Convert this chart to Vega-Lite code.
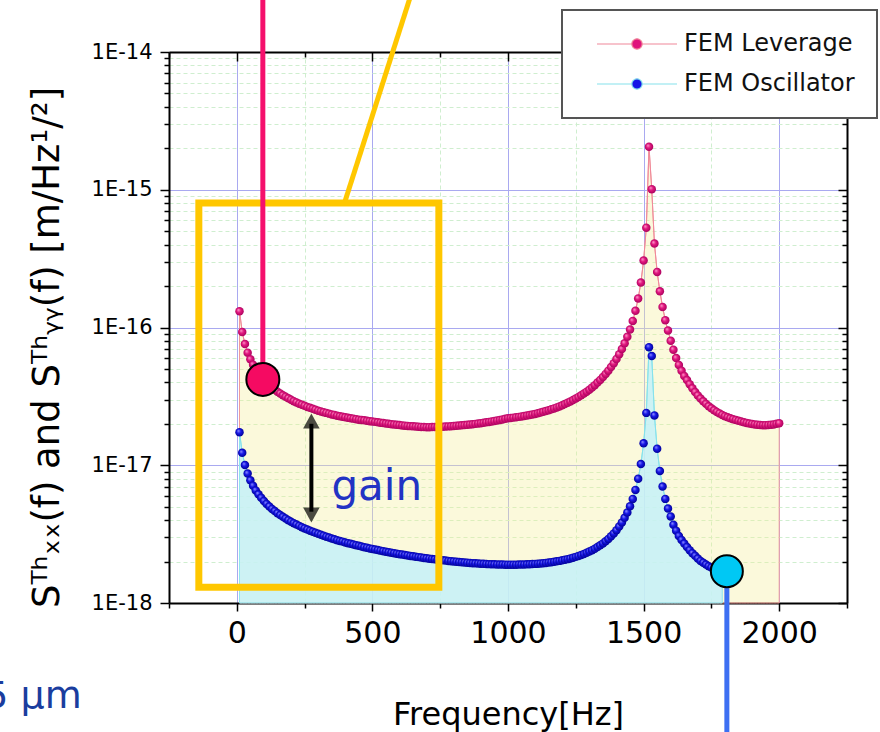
{
  "$schema": "https://vega.github.io/schema/vega-lite/v6.json",
  "width": 678,
  "height": 551,
  "autosize": {"type": "none"},
  "padding": {"left": 169, "top": 52, "right": 33, "bottom": 129},
  "background": "white",
  "config": {
    "view": {"stroke": null},
    "font": "DejaVu Sans",
    "axis": {"labelFont": "DejaVu Sans", "titleFont": "DejaVu Sans", "labelColor": "#000", "titleColor": "#000"}
  },
  "datasets": {
    "leverage": [
      {"f":10,"s":1.312e-16},{"f":20,"s":9.28e-17},{"f":30,"s":7.58e-17},{"f":40,"s":6.57e-17},{"f":50,"s":5.88e-17},
      {"f":60,"s":5.37e-17},{"f":70,"s":4.97e-17},{"f":80,"s":4.65e-17},{"f":90,"s":4.39e-17},{"f":100,"s":4.17e-17},
      {"f":110,"s":3.98e-17},{"f":120,"s":3.81e-17},{"f":130,"s":3.67e-17},{"f":140,"s":3.54e-17},{"f":150,"s":3.42e-17},
      {"f":160,"s":3.32e-17},{"f":170,"s":3.22e-17},{"f":180,"s":3.14e-17},{"f":190,"s":3.06e-17},{"f":200,"s":2.99e-17},
      {"f":210,"s":2.92e-17},{"f":220,"s":2.86e-17},{"f":230,"s":2.80e-17},{"f":240,"s":2.75e-17},{"f":250,"s":2.70e-17},
      {"f":260,"s":2.65e-17},{"f":270,"s":2.61e-17},{"f":280,"s":2.57e-17},{"f":290,"s":2.53e-17},{"f":300,"s":2.49e-17},
      {"f":310,"s":2.46e-17},{"f":320,"s":2.43e-17},{"f":330,"s":2.40e-17},{"f":340,"s":2.37e-17},{"f":350,"s":2.34e-17},
      {"f":360,"s":2.32e-17},{"f":370,"s":2.29e-17},{"f":380,"s":2.27e-17},{"f":390,"s":2.25e-17},{"f":400,"s":2.23e-17},
      {"f":410,"s":2.21e-17},{"f":420,"s":2.19e-17},{"f":430,"s":2.18e-17},{"f":440,"s":2.16e-17},{"f":450,"s":2.14e-17},
      {"f":460,"s":2.13e-17},{"f":470,"s":2.12e-17},{"f":480,"s":2.10e-17},{"f":490,"s":2.09e-17},{"f":500,"s":2.08e-17},
      {"f":510,"s":2.065e-17},{"f":520,"s":2.050e-17},{"f":530,"s":2.036e-17},{"f":540,"s":2.023e-17},{"f":550,"s":2.010e-17},
      {"f":560,"s":1.998e-17},{"f":570,"s":1.986e-17},{"f":580,"s":1.976e-17},{"f":590,"s":1.965e-17},{"f":600,"s":1.956e-17},
      {"f":610,"s":1.947e-17},{"f":620,"s":1.938e-17},{"f":630,"s":1.930e-17},{"f":640,"s":1.923e-17},{"f":650,"s":1.916e-17},
      {"f":660,"s":1.910e-17},{"f":670,"s":1.904e-17},{"f":680,"s":1.899e-17},{"f":690,"s":1.894e-17},{"f":700,"s":1.890e-17},
      {"f":710,"s":1.891e-17},{"f":720,"s":1.893e-17},{"f":730,"s":1.895e-17},{"f":740,"s":1.898e-17},{"f":750,"s":1.901e-17},
      {"f":760,"s":1.905e-17},{"f":770,"s":1.910e-17},{"f":780,"s":1.915e-17},{"f":790,"s":1.920e-17},{"f":800,"s":1.926e-17},
      {"f":810,"s":1.933e-17},{"f":820,"s":1.940e-17},{"f":830,"s":1.948e-17},{"f":840,"s":1.956e-17},{"f":850,"s":1.965e-17},
      {"f":860,"s":1.975e-17},{"f":870,"s":1.985e-17},{"f":880,"s":1.997e-17},{"f":890,"s":2.008e-17},{"f":900,"s":2.021e-17},
      {"f":910,"s":2.034e-17},{"f":920,"s":2.048e-17},{"f":930,"s":2.063e-17},{"f":940,"s":2.079e-17},{"f":950,"s":2.096e-17},
      {"f":960,"s":2.113e-17},{"f":970,"s":2.132e-17},{"f":980,"s":2.151e-17},{"f":990,"s":2.172e-17},{"f":1000,"s":2.194e-17},
      {"f":1010,"s":2.205e-17},{"f":1020,"s":2.217e-17},{"f":1030,"s":2.231e-17},{"f":1040,"s":2.245e-17},{"f":1050,"s":2.261e-17},
      {"f":1060,"s":2.277e-17},{"f":1070,"s":2.295e-17},{"f":1080,"s":2.315e-17},{"f":1090,"s":2.335e-17},{"f":1100,"s":2.358e-17},
      {"f":1110,"s":2.384e-17},{"f":1120,"s":2.413e-17},{"f":1130,"s":2.443e-17},{"f":1140,"s":2.475e-17},{"f":1150,"s":2.510e-17},
      {"f":1160,"s":2.547e-17},{"f":1170,"s":2.586e-17},{"f":1180,"s":2.629e-17},{"f":1190,"s":2.674e-17},{"f":1200,"s":2.723e-17},
      {"f":1210,"s":2.779e-17},{"f":1220,"s":2.839e-17},{"f":1230,"s":2.903e-17},{"f":1240,"s":2.972e-17},{"f":1250,"s":3.047e-17},
      {"f":1260,"s":3.129e-17},{"f":1270,"s":3.217e-17},{"f":1280,"s":3.313e-17},{"f":1290,"s":3.418e-17},{"f":1300,"s":3.532e-17},
      {"f":1310,"s":3.668e-17},{"f":1320,"s":3.816e-17},{"f":1330,"s":3.981e-17},{"f":1340,"s":4.164e-17},{"f":1350,"s":4.369e-17},
      {"f":1360,"s":4.600e-17},{"f":1370,"s":4.862e-17},{"f":1380,"s":5.162e-17},{"f":1390,"s":5.507e-17},{"f":1400,"s":5.910e-17},
      {"f":1410,"s":6.392e-17},{"f":1420,"s":6.971e-17},{"f":1430,"s":7.676e-17},{"f":1440,"s":8.554e-17},{"f":1450,"s":9.674e-17},
      {"f":1460,"s":1.116e-16},{"f":1470,"s":1.321e-16},{"f":1480,"s":1.625e-16},{"f":1490,"s":2.118e-16},{"f":1500,"s":3.060e-16},
      {"f":1510,"s":5.306e-16},{"f":1520,"s":2.05e-15},{"f":1530,"s":1.01e-15},{"f":1540,"s":4.07e-16},{"f":1550,"s":2.53e-16},
      {"f":1560,"s":1.83e-16},{"f":1570,"s":1.41e-16},{"f":1580,"s":1.13e-16},{"f":1590,"s":9.5e-17},{"f":1600,"s":8.0e-17},
      {"f":1610,"s":6.9e-17},{"f":1620,"s":6.0e-17},{"f":1630,"s":5.35e-17},{"f":1640,"s":4.85e-17},{"f":1650,"s":4.45e-17},
      {"f":1660,"s":4.15e-17},{"f":1670,"s":3.88e-17},{"f":1680,"s":3.62e-17},{"f":1690,"s":3.40e-17},{"f":1700,"s":3.21e-17},
      {"f":1710,"s":3.05e-17},{"f":1720,"s":2.91e-17},{"f":1730,"s":2.79e-17},{"f":1740,"s":2.68e-17},{"f":1750,"s":2.59e-17},
      {"f":1760,"s":2.51e-17},{"f":1770,"s":2.44e-17},{"f":1780,"s":2.38e-17},{"f":1790,"s":2.32e-17},{"f":1800,"s":2.27e-17},
      {"f":1810,"s":2.23e-17},{"f":1820,"s":2.19e-17},{"f":1830,"s":2.16e-17},{"f":1840,"s":2.13e-17},{"f":1850,"s":2.10e-17},
      {"f":1860,"s":2.075e-17},{"f":1870,"s":2.05e-17},{"f":1880,"s":2.03e-17},{"f":1890,"s":2.01e-17},{"f":1900,"s":1.995e-17},
      {"f":1910,"s":1.98e-17},{"f":1920,"s":1.97e-17},{"f":1930,"s":1.96e-17},{"f":1940,"s":1.955e-17},{"f":1950,"s":1.955e-17},
      {"f":1960,"s":1.96e-17},{"f":1970,"s":1.97e-17},{"f":1980,"s":1.98e-17},{"f":1990,"s":2.00e-17},{"f":2000,"s":2.02e-17}
    ],
    "oscillator": [
      {"f":10,"s":1.739e-17},{"f":20,"s":1.230e-17},{"f":30,"s":1.004e-17},{"f":40,"s":8.70e-18},{"f":50,"s":7.78e-18},
      {"f":60,"s":7.10e-18},{"f":70,"s":6.57e-18},{"f":80,"s":6.15e-18},{"f":90,"s":5.80e-18},{"f":100,"s":5.50e-18},
      {"f":110,"s":5.24e-18},{"f":120,"s":5.02e-18},{"f":130,"s":4.82e-18},{"f":140,"s":4.65e-18},{"f":150,"s":4.49e-18},
      {"f":160,"s":4.35e-18},{"f":170,"s":4.22e-18},{"f":180,"s":4.10e-18},{"f":190,"s":3.99e-18},{"f":200,"s":3.89e-18},
      {"f":210,"s":3.80e-18},{"f":220,"s":3.71e-18},{"f":230,"s":3.63e-18},{"f":240,"s":3.55e-18},{"f":250,"s":3.48e-18},
      {"f":260,"s":3.41e-18},{"f":270,"s":3.35e-18},{"f":280,"s":3.29e-18},{"f":290,"s":3.23e-18},{"f":300,"s":3.18e-18},
      {"f":310,"s":3.13e-18},{"f":320,"s":3.08e-18},{"f":330,"s":3.03e-18},{"f":340,"s":2.99e-18},{"f":350,"s":2.94e-18},
      {"f":360,"s":2.90e-18},{"f":370,"s":2.86e-18},{"f":380,"s":2.82e-18},{"f":390,"s":2.79e-18},{"f":400,"s":2.75e-18},
      {"f":410,"s":2.72e-18},{"f":420,"s":2.69e-18},{"f":430,"s":2.66e-18},{"f":440,"s":2.63e-18},{"f":450,"s":2.60e-18},
      {"f":460,"s":2.57e-18},{"f":470,"s":2.54e-18},{"f":480,"s":2.52e-18},{"f":490,"s":2.49e-18},{"f":500,"s":2.47e-18},
      {"f":510,"s":2.445e-18},{"f":520,"s":2.422e-18},{"f":530,"s":2.400e-18},{"f":540,"s":2.379e-18},{"f":550,"s":2.358e-18},
      {"f":560,"s":2.338e-18},{"f":570,"s":2.318e-18},{"f":580,"s":2.300e-18},{"f":590,"s":2.281e-18},{"f":600,"s":2.263e-18},
      {"f":610,"s":2.246e-18},{"f":620,"s":2.229e-18},{"f":630,"s":2.213e-18},{"f":640,"s":2.197e-18},{"f":650,"s":2.182e-18},
      {"f":660,"s":2.167e-18},{"f":670,"s":2.153e-18},{"f":680,"s":2.138e-18},{"f":690,"s":2.125e-18},{"f":700,"s":2.112e-18},
      {"f":710,"s":2.099e-18},{"f":720,"s":2.087e-18},{"f":730,"s":2.075e-18},{"f":740,"s":2.063e-18},{"f":750,"s":2.052e-18},
      {"f":760,"s":2.041e-18},{"f":770,"s":2.031e-18},{"f":780,"s":2.021e-18},{"f":790,"s":2.011e-18},{"f":800,"s":2.002e-18},
      {"f":810,"s":1.993e-18},{"f":820,"s":1.984e-18},{"f":830,"s":1.976e-18},{"f":840,"s":1.968e-18},{"f":850,"s":1.961e-18},
      {"f":860,"s":1.954e-18},{"f":870,"s":1.947e-18},{"f":880,"s":1.941e-18},{"f":890,"s":1.935e-18},{"f":900,"s":1.929e-18},
      {"f":910,"s":1.924e-18},{"f":920,"s":1.920e-18},{"f":930,"s":1.915e-18},{"f":940,"s":1.912e-18},{"f":950,"s":1.908e-18},
      {"f":960,"s":1.905e-18},{"f":970,"s":1.903e-18},{"f":980,"s":1.901e-18},{"f":990,"s":1.899e-18},{"f":1000,"s":1.898e-18},
      {"f":1010,"s":1.898e-18},{"f":1020,"s":1.898e-18},{"f":1030,"s":1.899e-18},{"f":1040,"s":1.900e-18},{"f":1050,"s":1.902e-18},
      {"f":1060,"s":1.905e-18},{"f":1070,"s":1.908e-18},{"f":1080,"s":1.912e-18},{"f":1090,"s":1.917e-18},{"f":1100,"s":1.923e-18},
      {"f":1110,"s":1.929e-18},{"f":1120,"s":1.937e-18},{"f":1130,"s":1.945e-18},{"f":1140,"s":1.955e-18},{"f":1150,"s":1.966e-18},
      {"f":1160,"s":1.978e-18},{"f":1170,"s":1.991e-18},{"f":1180,"s":2.006e-18},{"f":1190,"s":2.022e-18},{"f":1200,"s":2.040e-18},
      {"f":1210,"s":2.060e-18},{"f":1220,"s":2.082e-18},{"f":1230,"s":2.106e-18},{"f":1240,"s":2.133e-18},{"f":1250,"s":2.162e-18},
      {"f":1260,"s":2.195e-18},{"f":1270,"s":2.231e-18},{"f":1280,"s":2.270e-18},{"f":1290,"s":2.314e-18},{"f":1300,"s":2.363e-18},
      {"f":1310,"s":2.417e-18},{"f":1320,"s":2.478e-18},{"f":1330,"s":2.546e-18},{"f":1340,"s":2.623e-18},{"f":1350,"s":2.709e-18},
      {"f":1360,"s":2.807e-18},{"f":1370,"s":2.920e-18},{"f":1380,"s":3.050e-18},{"f":1390,"s":3.201e-18},{"f":1400,"s":3.378e-18},
      {"f":1410,"s":3.588e-18},{"f":1420,"s":3.841e-18},{"f":1430,"s":4.152e-18},{"f":1440,"s":4.540e-18},{"f":1450,"s":5.038e-18},
      {"f":1460,"s":5.700e-18},{"f":1470,"s":6.619e-18},{"f":1480,"s":7.980e-18},{"f":1490,"s":1.020e-17},{"f":1500,"s":1.444e-17},
      {"f":1510,"s":2.40e-17},{"f":1520,"s":7.2e-17},{"f":1530,"s":6.2e-17},{"f":1540,"s":2.3e-17},{"f":1550,"s":1.32e-17},
      {"f":1560,"s":9.1e-18},{"f":1570,"s":7.0e-18},{"f":1580,"s":5.7e-18},{"f":1590,"s":4.85e-18},{"f":1600,"s":4.25e-18},
      {"f":1610,"s":3.70e-18},{"f":1620,"s":3.35e-18},{"f":1630,"s":3.07e-18},{"f":1640,"s":2.87e-18},{"f":1650,"s":2.70e-18},
      {"f":1660,"s":2.55e-18},{"f":1670,"s":2.42e-18},{"f":1680,"s":2.30e-18},{"f":1690,"s":2.20e-18},{"f":1700,"s":2.10e-18},
      {"f":1710,"s":2.02e-18},{"f":1720,"s":1.96e-18},{"f":1730,"s":1.90e-18},{"f":1740,"s":1.85e-18},{"f":1750,"s":1.81e-18},
      {"f":1760,"s":1.78e-18},{"f":1770,"s":1.75e-18},{"f":1780,"s":1.73e-18},{"f":1790,"s":1.71e-18}
    ]
  },
  "layer": [
    {
      "data": {"name": "leverage"},
      "mark": {"type": "area", "fill": "#f5ef9a", "fillOpacity": 0.36, "stroke": "#f29a9a", "strokeWidth": 1},
      "encoding": {
        "x": {
          "field": "f", "type": "quantitative",
          "scale": {"domain": [-250, 2250], "nice": false, "zero": false},
          "axis": {
            "orient": "bottom",
            "values": [-250, 0, 250, 500, 750, 1000, 1250, 1500, 1750, 2000, 2250],
            "labelExpr": "datum.value % 500 === 0 && datum.value >= 0 && datum.value <= 2000 ? '' + datum.value : ''",
            "labelFontSize": 30, "labelPadding": 7, "labelBaseline": "top", "labelFlush": false, "labelOverlap": false,
            "title": "Frequency[Hz]", "titleFontSize": 32, "titleFontWeight": "normal", "titleY": 121, "titleBaseline": "alphabetic",
            "domainColor": "#000", "domainWidth": 2, "tickColor": "#000", "tickWidth": 1.5,
            "tickSize": {"condition": {"test": "datum.value % 500 === 0", "value": 8}, "value": 5},
            "grid": true,
            "gridColor": {"condition": {"test": "datum.value % 500 === 0", "value": "#a9a9f0"}, "value": "#cfeecf"},
            "gridDash": {"condition": {"test": "datum.value % 500 === 0", "value": []}, "value": [4, 3]},
            "gridWidth": 1
          }
        },
        "y": {
          "field": "s", "type": "quantitative",
          "scale": {"type": "log", "domain": [1e-18, 1e-14], "nice": false},
          "axis": {
            "orient": "left",
            "values": [1e-18, 2e-18, 3e-18, 4e-18, 5e-18, 6e-18, 7e-18, 8e-18, 9e-18,
                       1e-17, 2e-17, 3e-17, 4e-17, 5e-17, 6e-17, 7e-17, 8e-17, 9e-17,
                       1e-16, 2e-16, 3e-16, 4e-16, 5e-16, 6e-16, 7e-16, 8e-16, 9e-16,
                       1e-15, 2e-15, 3e-15, 4e-15, 5e-15, 6e-15, 7e-15, 8e-15, 9e-15, 1e-14],
            "labelExpr": "abs(log(datum.value) / LN10 - round(log(datum.value) / LN10)) < 0.001 ? '1E' + round(log(datum.value) / LN10) : ''",
            "labelFontSize": 21, "labelPadding": 8, "labelBaseline": "middle", "labelFlush": false, "labelOverlap": false,
            "title": "Sᵀʰₓₓ(f) and Sᵀʰᵧᵧ(f) [m/Hz¹/²]",
            "titleFontSize": 37, "titleFontWeight": "normal", "titleX": -122, "titleY": 295,
            "titleBaseline": "middle", "titleAlign": "center",
            "domainColor": "#000", "domainWidth": 2, "tickColor": "#000", "tickWidth": 1.5,
            "tickSize": {"condition": {"test": "abs(log(datum.value) / LN10 - round(log(datum.value) / LN10)) < 0.001", "value": 9}, "value": 5},
            "grid": true,
            "gridColor": {"condition": {"test": "abs(log(datum.value) / LN10 - round(log(datum.value) / LN10)) < 0.001", "value": "#a9a9f0"}, "value": "#cfeecf"},
            "gridDash": {"condition": {"test": "abs(log(datum.value) / LN10 - round(log(datum.value) / LN10)) < 0.001", "value": []}, "value": [4, 3]},
            "gridWidth": 1
          }
        },
        "y2": {"datum": 1e-18}
      }
    },
    {
      "data": {"name": "oscillator"},
      "mark": {"type": "area", "fill": "#c4f1f8", "fillOpacity": 0.85, "stroke": "#8fe6ee", "strokeWidth": 1},
      "encoding": {
        "x": {"field": "f", "type": "quantitative", "axis": null},
        "y": {"field": "s", "type": "quantitative", "axis": null},
        "y2": {"datum": 1e-18}
      }
    },
    {
      "data": {"name": "leverage"},
      "mark": {"type": "line", "strokeWidth": 1},
      "encoding": {
        "x": {
          "field": "f", "type": "quantitative",
          "axis": {
            "orient": "top", "labels": false, "title": null, "grid": false,
            "values": [-250, 0, 250, 500, 750, 1000, 1250, 1500, 1750, 2000, 2250],
            "domainColor": "#000", "domainWidth": 2, "tickColor": "#000", "tickWidth": 1.5,
            "tickSize": {"condition": {"test": "datum.value % 500 === 0", "value": -9}, "value": -5}
          }
        },
        "y": {
          "field": "s", "type": "quantitative",
          "axis": {
            "orient": "right", "labels": false, "title": null, "grid": false,
            "values": [1e-18, 2e-18, 3e-18, 4e-18, 5e-18, 6e-18, 7e-18, 8e-18, 9e-18,
                       1e-17, 2e-17, 3e-17, 4e-17, 5e-17, 6e-17, 7e-17, 8e-17, 9e-17,
                       1e-16, 2e-16, 3e-16, 4e-16, 5e-16, 6e-16, 7e-16, 8e-16, 9e-16,
                       1e-15, 2e-15, 3e-15, 4e-15, 5e-15, 6e-15, 7e-15, 8e-15, 9e-15, 1e-14],
            "domainColor": "#000", "domainWidth": 2, "tickColor": "#000", "tickWidth": 1.5,
            "tickSize": {"condition": {"test": "abs(log(datum.value) / LN10 - round(log(datum.value) / LN10)) < 0.001", "value": -9}, "value": -5}
          }
        },
        "color": {
          "datum": "FEM Leverage", "type": "nominal",
          "scale": {"domain": ["FEM Leverage", "FEM Oscillator"], "range": ["#f0889a", "#86e2ec"]},
          "legend": {
            "orient": "none", "legendX": 393, "legendY": -42, "title": null,
            "padding": 22, "strokeColor": "#555555", "fillColor": "#ffffff",
            "symbolType": "M-4,0H-0.52M0.52,0H4M0.52,0A0.52,0.52,0,1,1,-0.52,0A0.52,0.52,0,1,1,0.52,0Z",
            "symbolSize": 400, "symbolStrokeWidth": 1.2, "symbolOffset": 41,
            "labelFont": "DejaVu Sans", "labelFontSize": 24, "labelColor": "#111111", "labelOffset": 35, "labelLimit": 400,
            "rowPadding": 16,
            "encode": {
              "legend": {"update": {"strokeWidth": {"value": 2}}},
              "symbols": {
                "update": {
                  "fill": {"signal": "datum.value === 'FEM Leverage' ? '#e0137c' : '#1414e6'"},
                  "fillOpacity": {"value": 1}
                }
              }
            }
          }
        }
      }
    },
    {
      "data": {"name": "oscillator"},
      "mark": {"type": "line", "strokeWidth": 1},
      "encoding": {
        "x": {"field": "f", "type": "quantitative", "axis": null},
        "y": {"field": "s", "type": "quantitative", "axis": null},
        "color": {"datum": "FEM Oscillator", "type": "nominal"}
      }
    },
    {
      "data": {"name": "leverage"},
      "mark": {
        "type": "point", "filled": true, "size": 72, "strokeWidth": 0, "opacity": 1,
        "fill": {
          "gradient": "radial", "x1": 0.35, "y1": 0.32, "r1": 0, "x2": 0.5, "y2": 0.5, "r2": 0.55,
          "stops": [{"offset": 0, "color": "#ffa8d2"}, {"offset": 0.45, "color": "#e3187f"}, {"offset": 1, "color": "#a3005a"}]
        }
      },
      "encoding": {
        "x": {"field": "f", "type": "quantitative", "axis": null},
        "y": {"field": "s", "type": "quantitative", "axis": null}
      }
    },
    {
      "data": {"name": "oscillator"},
      "mark": {
        "type": "point", "filled": true, "size": 72, "strokeWidth": 0, "opacity": 1,
        "fill": {
          "gradient": "radial", "x1": 0.35, "y1": 0.32, "r1": 0, "x2": 0.5, "y2": 0.5, "r2": 0.55,
          "stops": [{"offset": 0, "color": "#9a9aff"}, {"offset": 0.45, "color": "#1616e8"}, {"offset": 1, "color": "#00008c"}]
        }
      },
      "encoding": {
        "x": {"field": "f", "type": "quantitative", "axis": null},
        "y": {"field": "s", "type": "quantitative", "axis": null}
      }
    },
    {
      "data": {"values": [{"f1": -140, "f2": 745, "s1": 8.0e-16, "s2": 1.3e-18}]},
      "mark": {"type": "rect", "filled": false, "stroke": "#ffc700", "strokeWidth": 7},
      "encoding": {
        "x": {"field": "f1", "type": "quantitative", "axis": null},
        "x2": {"field": "f2"},
        "y": {"field": "s1", "type": "quantitative", "axis": null},
        "y2": {"field": "s2"}
      }
    },
    {
      "data": {"values": [{"f1": 397, "f2": 654, "s1": 8.0e-16, "s2": 3.08e-14}]},
      "mark": {"type": "rule", "stroke": "#ffc700", "strokeWidth": 5},
      "encoding": {
        "x": {"field": "f1", "type": "quantitative", "axis": null},
        "x2": {"field": "f2"},
        "y": {"field": "s1", "type": "quantitative", "axis": null},
        "y2": {"field": "s2"}
      }
    },
    {
      "data": {"values": [{"f": 96, "s1": 4.2e-17, "s2": 3e-14}]},
      "mark": {"type": "rule", "stroke": "#f5106c", "strokeWidth": 5},
      "encoding": {
        "x": {"field": "f", "type": "quantitative", "axis": null},
        "y": {"field": "s1", "type": "quantitative", "axis": null},
        "y2": {"field": "s2"}
      }
    },
    {
      "data": {"values": [{"f": 1807, "s1": 1.7e-18, "s2": 1e-19}]},
      "mark": {"type": "rule", "stroke": "#3d6ff2", "strokeWidth": 5},
      "encoding": {
        "x": {"field": "f", "type": "quantitative", "axis": null},
        "y": {"field": "s1", "type": "quantitative", "axis": null},
        "y2": {"field": "s2"}
      }
    },
    {
      "data": {"values": [{"f": 275, "s1": 2.0e-17, "s2": 4.6e-18}]},
      "mark": {"type": "rule", "stroke": "#000000", "strokeWidth": 4},
      "encoding": {
        "x": {"field": "f", "type": "quantitative", "axis": null},
        "y": {"field": "s1", "type": "quantitative", "axis": null},
        "y2": {"field": "s2"}
      }
    },
    {
      "data": {"values": [{"f": 275, "s": 2.38e-17}]},
      "mark": {"type": "point", "filled": true, "color": "#000000", "size": 900, "shape": "M0,0L0.55,1L-0.55,1Z", "strokeWidth": 0},
      "encoding": {
        "x": {"field": "f", "type": "quantitative", "axis": null},
        "y": {"field": "s", "type": "quantitative", "axis": null}
      }
    },
    {
      "data": {"values": [{"f": 275, "s": 3.84e-18}]},
      "mark": {"type": "point", "filled": true, "color": "#000000", "size": 900, "shape": "M0,0L0.55,-1L-0.55,-1Z", "strokeWidth": 0},
      "encoding": {
        "x": {"field": "f", "type": "quantitative", "axis": null},
        "y": {"field": "s", "type": "quantitative", "axis": null}
      }
    },
    {
      "data": {"values": [{"f": 96, "s": 4.2e-17}]},
      "mark": {"type": "point", "filled": true, "fill": "#f50a62", "stroke": "#000000", "strokeWidth": 2, "size": 1089, "shape": "circle", "opacity": 1},
      "encoding": {
        "x": {"field": "f", "type": "quantitative", "axis": null},
        "y": {"field": "s", "type": "quantitative", "axis": null}
      }
    },
    {
      "data": {"values": [{"f": 1807, "s": 1.7e-18}]},
      "mark": {"type": "point", "filled": true, "fill": "#00c8f4", "stroke": "#000000", "strokeWidth": 2, "size": 1024, "shape": "circle", "opacity": 1},
      "encoding": {
        "x": {"field": "f", "type": "quantitative", "axis": null},
        "y": {"field": "s", "type": "quantitative", "axis": null}
      }
    },
    {
      "data": {"values": [{"f": 349, "s": 5.58e-18, "label": "gain"}]},
      "mark": {"type": "text", "align": "left", "baseline": "alphabetic", "font": "DejaVu Sans", "fontSize": 42, "color": "#2233c4"},
      "encoding": {
        "x": {"field": "f", "type": "quantitative", "axis": null},
        "y": {"field": "s", "type": "quantitative", "axis": null},
        "text": {"field": "label"}
      }
    },
    {
      "data": {"values": [{"f": -572, "s": 1.72e-19, "label": "5 μm"}]},
      "mark": {"type": "text", "align": "right", "baseline": "alphabetic", "font": "DejaVu Sans", "fontSize": 38, "color": "#1a3d9e"},
      "encoding": {
        "x": {"field": "f", "type": "quantitative", "axis": null},
        "y": {"field": "s", "type": "quantitative", "axis": null},
        "text": {"field": "label"}
      }
    }
  ]
}
